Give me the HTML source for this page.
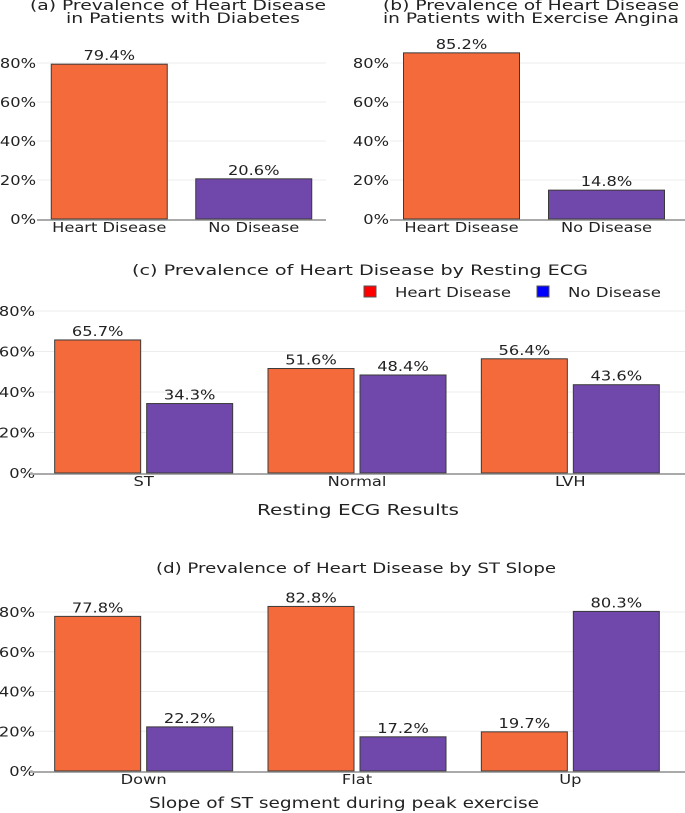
<!DOCTYPE html>
<html><head><meta charset="utf-8"><style>
html,body{margin:0;padding:0;background:#fff;width:685px;height:813px;overflow:hidden}
svg text{font-family:"DejaVu Sans","Liberation Sans",sans-serif;fill:#222}
</style></head><body>
<svg id="fig" width="685" height="813" viewBox="0 0 685 813" xmlns="http://www.w3.org/2000/svg"></svg>
<script>
const tickValues=[0,20,40,60,80];
const tickLabels=["0%","20%","40%","60%","80%"];
const seriesNames=["Heart Disease","No Disease"];
const diabetesCats=["Heart Disease","No Disease"];
const diabetesVals=[79.4,20.6];
const anginaCats=["Heart Disease","No Disease"];
const anginaVals=[85.2,14.8];
const ecgCats=["ST","Normal","LVH"];
const ecgHeart=[65.7,51.6,56.4];
const ecgNo=[34.3,48.4,43.6];
const slopeCats=["Down","Flat","Up"];
const slopeHeart=[77.8,82.8,19.7];
const slopeNo=[22.2,17.2,80.3];

const NS="http://www.w3.org/2000/svg";
const svg=document.getElementById('fig');
const ORANGE="#F46A3A",PURPLE="#7047AA";
const SX=1.25;
function mk(tag,attrs,parent){const e=document.createElementNS(NS,tag);for(const k in attrs)e.setAttribute(k,attrs[k]);(parent||svg).appendChild(e);return e;}
function txt(x,y,s,size,anchor,parent){const t=mk('text',{x:0,y:0,'font-size':size,'text-anchor':anchor||'middle',transform:'translate('+x+','+y+') scale('+SX+',1)'},parent);t.textContent=s;return t;}
function wtxt(x,y,s,size,w,anchor,parent){const t=mk('text',{x:x,y:y,'font-size':size,'text-anchor':anchor||'middle',textLength:w,lengthAdjust:'spacingAndGlyphs'},parent);t.textContent=s;return t;}

function panel(name,o){
  const g=mk('g',{});
  
  
  const y=v=>o.y0-(v/80)*(o.y0-o.y80);
  tickValues.forEach((v,i)=>{
    if(v>0){const l=mk('line',{x1:o.x0,x2:o.x1,y1:y(v),y2:y(v),stroke:'#ececec','stroke-width':1},g);
      }
    const t=txt(o.lx,y(v)+5,tickLabels[i],13,'end',g);
    
  });
  const ax=mk('line',{x1:o.x0,x2:o.x1,y1:o.y0+1,y2:o.y0+1,stroke:'#aaa','stroke-width':2},g);
  
  const n=o.cats.length, band=(o.xe-o.xs)/n;
  o.series.forEach((vals,si)=>{
    vals.forEach((v,ci)=>{
      const cx=o.xs+band*(ci+0.5);
      const bx=o.series.length===1? cx-o.bw/2 : cx-o.bw-o.gap/2+si*(o.bw+o.gap);
      const fill=o.series.length===1? o.colors[ci%2] : o.colors[si];
      const r=mk('rect',{x:bx,y:y(v),width:o.bw,height:o.y0-y(v),fill:fill,stroke:'#3a3a3a','stroke-width':1},g);
      
      
      const t=txt(bx+o.bw/2,y(v)-4,v.toFixed(1)+'%',13,'middle',g);
      
    });
  });
  o.cats.forEach((c,ci)=>{
    const t=txt(o.xs+band*(ci+0.5),o.y0+13,c,13,'middle',g);
    
  });
}

panel('panel-a-diabetes',{x0:37,x1:326,xs:37,xe:326,lx:36,y0:219,y80:63,cats:diabetesCats,series:[diabetesVals],bw:116,gap:0,colors:[ORANGE,PURPLE]});
panel('panel-b-angina',{x0:390,x1:685,xs:389,xe:679,lx:389,y0:219,y80:63,cats:anginaCats,series:[anginaVals],bw:116,gap:0,colors:[ORANGE,PURPLE]});
panel('panel-c-ecg',{x0:30,x1:685,xs:37,xe:677,lx:35,y0:473,y80:311,cats:ecgCats,series:[ecgHeart,ecgNo],bw:86,gap:6,colors:[ORANGE,PURPLE]});
panel('panel-d-slope',{x0:30,x1:685,xs:37,xe:677,lx:35,y0:771,y80:612,cats:slopeCats,series:[slopeHeart,slopeNo],bw:86,gap:6,colors:[ORANGE,PURPLE]});

function title(x,y,s,name,size,w){const t=wtxt(x,y,s,size,w,'middle');}
title(178,10,'(a) Prevalence of Heart Disease','title-a-line1',14,296);
title(183,23,'in Patients with Diabetes','title-a-line2',14,234);
title(531,10,'(b) Prevalence of Heart Disease','title-b-line1',14,296);
title(531,23,'in Patients with Exercise Angina','title-b-line2',14,296);
title(360,275,'(c) Prevalence of Heart Disease by Resting ECG','title-c',14,456);
title(356,573,'(d) Prevalence of Heart Disease by ST Slope','title-d',14,400);
title(358,515,'Resting ECG Results','x-axis-title-c',15,202);
title(344,808,'Slope of ST segment during peak exercise','x-axis-title-d',15,390);

const lg=mk('g',{});


[[364,'#ff0000','Heart Disease',116],[537,'#0000ff','No Disease',93]].forEach(([x,c,s,w])=>{
  const r=mk('rect',{x:x,y:286,width:12,height:11,fill:c,stroke:'#555','stroke-width':1},lg);
  
  const t=wtxt(x+31,297,s,13,w,'start',lg);
  
});
</script>
</body></html>
